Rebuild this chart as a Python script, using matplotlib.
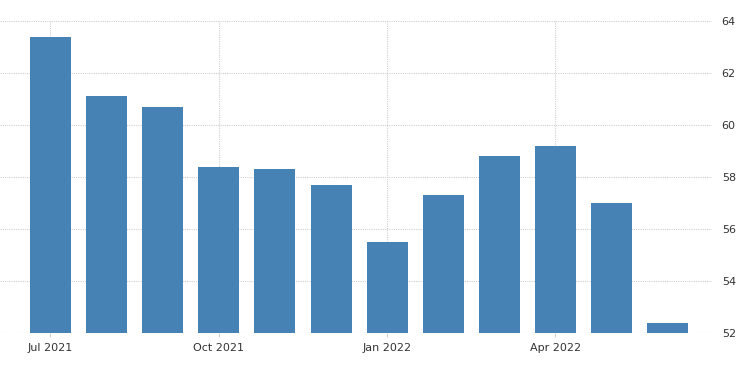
import matplotlib
matplotlib.use("Agg")
import matplotlib.pyplot as plt

months = ["Jul 2021", "Aug 2021", "Sep 2021", "Oct 2021", "Nov 2021", "Dec 2021",
          "Jan 2022", "Feb 2022", "Mar 2022", "Apr 2022", "May 2022", "Jun 2022"]
values = [63.4, 61.1, 60.7, 58.4, 58.3, 57.7, 55.5, 57.3, 58.8, 59.2, 57.0, 52.4]
tick_idx = [0, 3, 6, 9]
yticks = [52, 54, 56, 58, 60, 62, 64]

fig = plt.figure(figsize=(7.5, 3.73), dpi=100)
ax = fig.add_axes([0.0, 0.1072, 712 / 750, 0.9437 - 0.1072])

x = list(range(len(values)))
ax.bar(x, values, width=0.73, color="#4682B4", zorder=2)

ax.set_ylim(52, 64)
ax.set_xlim(-0.9, 11.79)
ax.set_yticks(yticks)
ax.set_xticks(tick_idx)
ax.set_xticklabels([months[i] for i in tick_idx])

ax.yaxis.tick_right()
ax.tick_params(axis="y", length=0, pad=7, labelsize=8, labelcolor="#333333")
ax.tick_params(axis="x", length=3, color="#d0d0d0", pad=4, labelsize=8, labelcolor="#333333")

ax.grid(True, axis="both", linestyle=(0, (1, 1)), color="#d0d0d0", linewidth=0.8, zorder=0)
ax.set_axisbelow(True)
for s in ax.spines.values():
    s.set_visible(False)

fig.savefig("out.png", dpi=100)
